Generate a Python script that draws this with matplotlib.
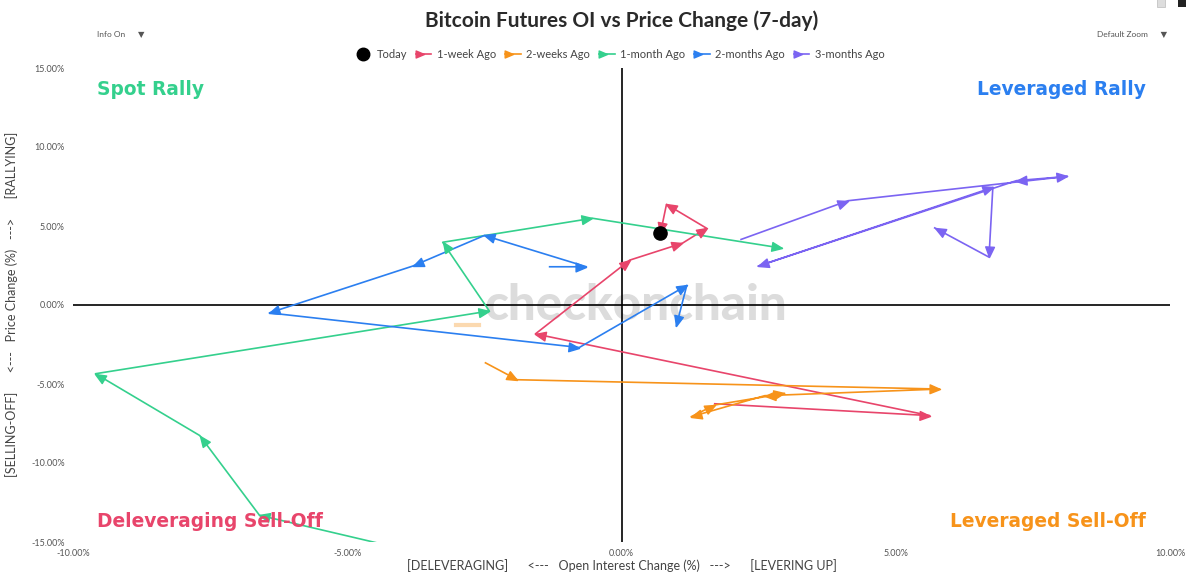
import numpy as np
import matplotlib
matplotlib.use('Agg')
import matplotlib.pyplot as plt
from matplotlib.lines import Line2D
from matplotlib.markers import MarkerStyle
from matplotlib.path import Path
from matplotlib.transforms import Affine2D
from matplotlib.patches import Rectangle

plt.rcParams['font.family'] = ['Lato', 'DejaVu Sans']

# Data (OI change %, price change %), oldest -> newest
today_x = [0.71]
today_y = [4.54]

week1_x = [1.70, 5.62, -1.57, 0.15, 1.11, 1.55, 0.82, 0.71]
week1_y = [-6.25, -7.00, -1.83, 2.84, 3.91, 4.86, 6.37, 4.54]

week2_x = [-2.48, -1.90, 5.80, 2.61, 1.27, 1.70, 2.97]
week2_y = [-3.66, -4.73, -5.32, -5.74, -7.07, -6.33, -5.60]

month1_x = [-3.30, -6.60, -7.69, -9.59, -2.41, -3.26, -0.53, 2.92]
month1_y = [-16.00, -13.31, -8.26, -4.35, -0.38, 3.97, 5.49, 3.60]

month2_x = [-1.31, -0.64, -2.50, -3.81, -6.42, -0.77, 1.19, 1.00]
month2_y = [2.42, 2.42, 4.40, 2.46, -0.50, -2.69, 1.24, -1.32]

month3_x = [2.18, 4.13, 8.13, 7.20, 2.49, 6.77, 6.70, 5.71]
month3_y = [4.15, 6.60, 8.14, 7.87, 2.46, 7.44, 3.03, 4.88]

series = [
    ('1-week Ago', week1_x, week1_y, '#e8456b'),
    ('2-weeks Ago', week2_x, week2_y, '#f7931a'),
    ('1-month Ago', month1_x, month1_y, '#34d08d'),
    ('2-months Ago', month2_x, month2_y, '#2b7ff0'),
    ('3-months Ago', month3_x, month3_y, '#7b64f2'),
]

x_ticks = [-10, -5, 0, 5, 10]
y_ticks = [-15, -10, -5, 0, 5, 10, 15]

logo_dash_x = [-3.02, -2.59]
logo_dash_y = [-1.26, -1.26]

# arrow head with its tip at the marker origin
arrow_path = Path([(0, 0), (-1, 0.42), (-1, -0.42), (0, 0)],
                  [Path.MOVETO, Path.LINETO, Path.LINETO, Path.CLOSEPOLY])


def arrow_marker(angle):
    return MarkerStyle(arrow_path, transform=Affine2D().rotate(angle))


fig = plt.figure(figsize=(12, 5.83), dpi=100)
ax = fig.add_axes([73 / 1200, 1 - 542 / 583, 1097 / 1200, 474 / 583])
ax.set_xlim(-10, 10)
ax.set_ylim(-15, 15)
for s in ax.spines.values():
    s.set_visible(False)

ax.axhline(0, color='black', lw=1.2, zorder=1)
ax.axvline(0, color='black', lw=1.2, zorder=1)

ax.set_xticks(x_ticks)
ax.set_xticklabels(['%.2f%%' % v for v in x_ticks])
ax.set_yticks(y_ticks)
ax.set_yticklabels(['%.2f%%' % v for v in y_ticks])
ax.tick_params(length=0, labelsize=6.5, labelcolor='#555555')
ax.tick_params(axis='x', pad=5)
ax.tick_params(axis='y', pad=6)

# watermark
ax.text(0.27, 0, 'checkonchain', ha='center', va='center', fontsize=35.5,
        fontweight='black', color='#dcdcdc', zorder=0)
ax.plot(logo_dash_x, logo_dash_y, color='#fbd9b0', lw=3, zorder=0)

# arrow paths
for name, xs, ys, c in series:
    ax.plot(xs, ys, color=c, lw=1.2, zorder=2)
    pts = ax.transData.transform(np.column_stack([xs, ys]))
    for i in range(1, len(xs)):
        d = pts[i] - pts[i - 1]
        ang = np.arctan2(d[1], d[0])
        ax.plot(xs[i], ys[i], linestyle='none', marker=arrow_marker(ang),
                markersize=15, color=c, zorder=3)

ax.plot(today_x, today_y, 'o', color='black', markersize=9.5, zorder=4)

# quadrant labels
qkw = dict(fontsize=13.4, fontweight='bold', family='DejaVu Sans', va='center',
           transform=ax.transAxes)
ax.text(0.022, 0.954, 'Spot Rally', color='#34d08d', ha='left', **qkw)
ax.text(0.978, 0.954, 'Leveraged Rally', color='#2b7ff0', ha='right', **qkw)
ax.text(0.022, 0.044, 'Deleveraging Sell-Off', color='#e8456b', ha='left', **qkw)
ax.text(0.978, 0.044, 'Leveraged Sell-Off', color='#f7931a', ha='right', **qkw)

# titles
fig.text(622 / 1200, 1 - 21 / 583, 'Bitcoin Futures OI vs Price Change (7-day)',
         ha='center', va='center', fontsize=15, fontweight='bold', color='#2a2a2a')
fig.text(622 / 1200, 1 - 566 / 583,
         '[DELEVERAGING]      <---   Open Interest Change (%)   --->      [LEVERING UP]',
         ha='center', va='center', fontsize=9, color='#444444')
fig.text(12 / 1200, 1 - 304 / 583,
         '[SELLING-OFF]      <---   Price Change (%)   --->      [RALLYING]',
         ha='center', va='center', rotation=90, fontsize=9, color='#444444')

fig.text(97 / 1200, 1 - 34 / 583, 'Info On      \u25bc', ha='left', va='center',
         fontsize=6, color='#555555')
fig.text(1097 / 1200, 1 - 34 / 583, 'Default Zoom      \u25bc', ha='left', va='center',
         fontsize=6, color='#555555')
fig.patches.append(Rectangle((1157 / 1200, 1 - 7 / 583), 8 / 1200, 8 / 583,
                             transform=fig.transFigure, facecolor='#dddddd',
                             edgecolor='#bbbbbb', lw=0.5))
fig.patches.append(Rectangle((1178 / 1200, 1 - 7 / 583), 8 / 1200, 8 / 583,
                             transform=fig.transFigure, facecolor='#222222',
                             edgecolor='none'))

# legend
handles = [Line2D([], [], linestyle='none', marker='o', color='black', markersize=9)]
labels = ['Today']
for name, xs, ys, c in series:
    handles.append(Line2D([], [], color=c, lw=1.2, marker=arrow_marker(0),
                          markersize=12, markevery=[0]))
    labels.append(name)
fig.legend(handles, labels, loc='center', bbox_to_anchor=(620 / 1200, 1 - 54 / 583),
           ncol=6, frameon=False, fontsize=8, handlelength=1.4, handletextpad=0.5,
           columnspacing=0.8, labelcolor='#444444')

fig.savefig('out.png', dpi=100)
